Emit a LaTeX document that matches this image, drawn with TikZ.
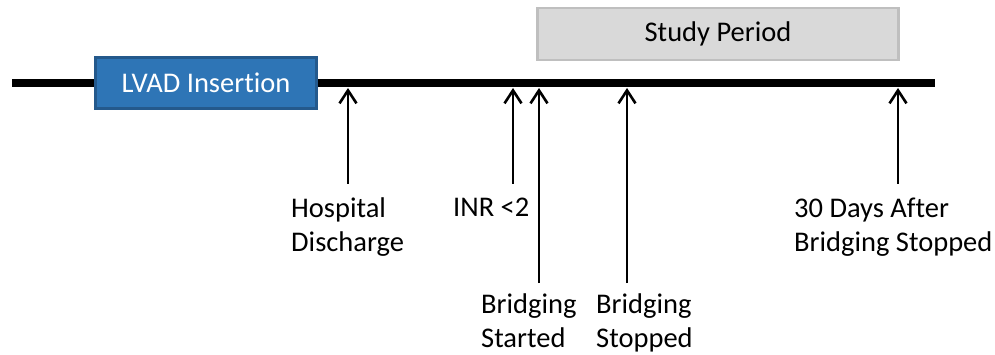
\documentclass[tikz,border=0pt]{standalone}
\usepackage{fontspec}
\setmainfont{Carlito}[Ligatures=NoCommon]
\usetikzlibrary{arrows.meta}
\definecolor{lvadfill}{HTML}{2E75B6}
\definecolor{lvaddraw}{HTML}{24598C}
\definecolor{studyfill}{HTML}{D9D9D9}
\definecolor{studydraw}{HTML}{BFBFBF}
\tikzset{
  lbl/.style={anchor=north west, inner sep=0pt, align=left, font=\fontsize{28.5}{34}\selectfont},
  evt/.style={line width=2.6pt, -{Straight Barb[length=13pt, width=17pt, line width=2.6pt]}},
  boxtxt/.style={font=\fontsize{28.5}{34}\selectfont, inner sep=0pt, line width=2.5pt}
}
\begin{document}
\begin{tikzpicture}[x=1pt,y=-1pt]
\useasboundingbox (0,0) rectangle (995,355);
% timeline
\coordinate (tl0) at (12,83);
\coordinate (tl1) at (935,83);
\draw[line width=7.5pt] (tl0) -- (tl1);
% boxes
\node[boxtxt, draw=lvaddraw, fill=lvadfill, text=white, minimum width=221pt, minimum height=51pt] (lvad) at (206,83) {LVAD Insertion};
\node[boxtxt, draw=studydraw, fill=studyfill, text=black, minimum width=361pt, minimum height=52pt] (study) at (718,34) {Study Period};
% tips on timeline
\coordinate (hdT) at (348,88);
\coordinate (inrT) at (513,88);
\coordinate (bsT) at (539,88);
\coordinate (bpT) at (627,88);
\coordinate (dT) at (898,88);
% arrow bottoms
\coordinate (hdB) at (348,184);
\coordinate (inrB) at (513,184);
\coordinate (bsB) at (539,283);
\coordinate (bpB) at (627,283);
\coordinate (dB) at (898,184);
\draw[evt] (hdB) -- (hdT);
\draw[evt] (inrB) -- (inrT);
\draw[evt] (bsB) -- (bsT);
\draw[evt] (bpB) -- (bpT);
\draw[evt] (dB) -- (dT);
% labels
\node[lbl] (hd) at (291,198) {Hospital\\Discharge};
\node[lbl] (inr) at (453,198) {INR <2};
\node[lbl] (bs) at (481,294) {Bridging\\Started};
\node[lbl] (bp) at (596,294) {Bridging\\Stopped};
\node[lbl] (d30) at (794,198) {30 Days After\\Bridging Stopped};
\end{tikzpicture}
\end{document}
